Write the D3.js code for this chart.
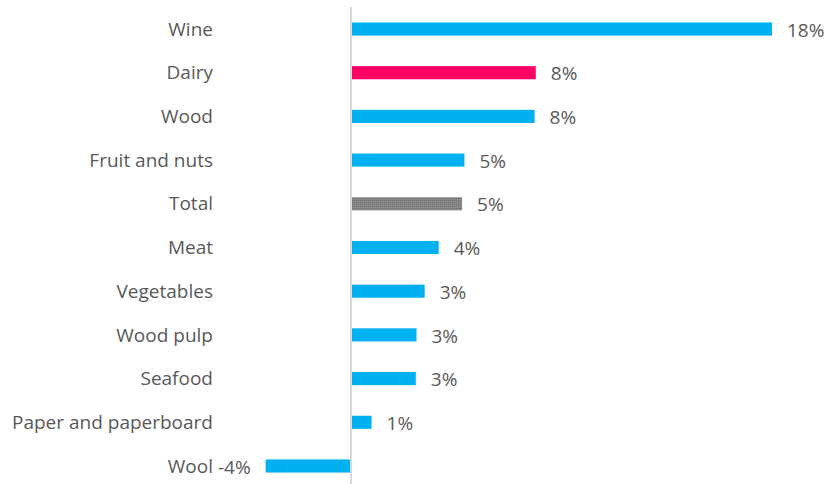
<html>
<head>
<style>
body { margin: 0; padding: 0; background: #fff; }
text { font-family: "Open Sans", sans-serif; fill: #595959; font-size: 19px; }
</style>
<script src="https://cdnjs.cloudflare.com/ajax/libs/d3/7.8.5/d3.min.js"></script>
</head>
<body>
<svg width="829" height="484"></svg>
<script>
var categories = ['Wine', 'Dairy', 'Wood', 'Fruit and nuts', 'Total', 'Meat',
  'Vegetables', 'Wood pulp', 'Seafood', 'Paper and paperboard', 'Wool']
var values = [18, 7.9, 7.85, 4.85, 4.75, 3.75, 3.15, 2.8, 2.77, 0.88, -3.65]
var colors = ['#00b0f0', '#ff0066', '#00b0f0', '#00b0f0', '#808080', '#00b0f0',
  '#00b0f0', '#00b0f0', '#00b0f0', '#00b0f0', '#00b0f0']

var svg = d3.select('svg')

var x = d3.scaleLinear().domain([0, 18]).range([351, 772])
var y = d3.scaleBand().domain(categories).range([7.15, 487.85])
  .paddingInner(0.7).paddingOuter(0.35)

var data = categories.map(function(c, i) {
  return {name: c, value: values[i], color: colors[i]}
})

// grey pattern for the total bar
var defs = svg.append('defs')
var pat = defs.append('pattern').attr('id', 'dots')
  .attr('width', 2).attr('height', 2).attr('patternUnits', 'userSpaceOnUse')
pat.append('rect').attr('width', 2).attr('height', 2).attr('fill', '#8a8a8a')
pat.append('rect').attr('width', 1).attr('height', 1).attr('fill', '#6f6f6f')

svg.selectAll('rect.bar')
  .data(data)
  .join('rect')
  .attr('class', 'bar')
  .attr('x', function(d) { return x(Math.min(0, d.value)) })
  .attr('y', function(d) { return y(d.name) })
  .attr('width', function(d) { return Math.abs(x(d.value) - x(0)) })
  .attr('height', y.bandwidth())
  .attr('fill', function(d) { return d.name == 'Total' ? 'url(#dots)' : d.color })

// zero line
svg.append('line')
  .attr('x1', x(0)).attr('x2', x(0))
  .attr('y1', 7).attr('y2', 484)
  .attr('stroke', '#d9d9d9').attr('stroke-width', 2)

// category labels
svg.selectAll('text.cat')
  .data(data)
  .join('text')
  .attr('class', 'cat')
  .attr('x', 213)
  .attr('y', function(d) { return y(d.name) + y.bandwidth() / 2 })
  .attr('dy', '0.35em')
  .attr('text-anchor', 'end')
  .text(function(d) { return d.name })

// value labels
svg.selectAll('text.val')
  .data(data)
  .join('text')
  .attr('class', 'val')
  .attr('x', function(d) { return d.value < 0 ? x(d.value) - 15 : x(d.value) + 15 })
  .attr('y', function(d) { return y(d.name) + y.bandwidth() / 2 + 1 })
  .attr('dy', '0.35em')
  .attr('text-anchor', function(d) { return d.value < 0 ? 'end' : 'start' })
  .text(function(d) { return Math.round(d.value) + '%' })
</script>
</body>
</html>
